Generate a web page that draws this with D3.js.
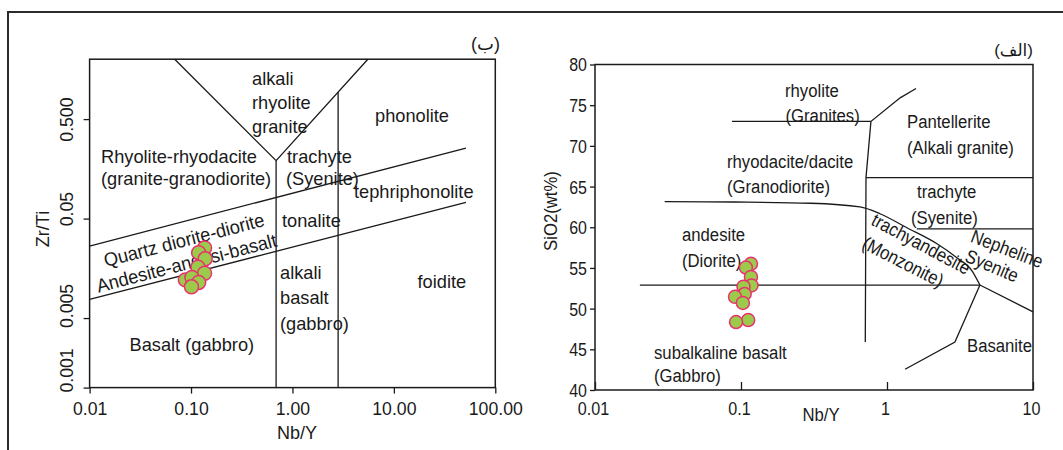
<!DOCTYPE html>
<html><head><meta charset="utf-8">
<script src="https://cdn.jsdelivr.net/npm/d3@7"></script>
<style>
body{margin:0;background:#fff;}
svg{display:block;font-family:"Liberation Sans",Arial,"DejaVu Sans",sans-serif;}
</style></head><body>
<svg id="c" width="1063" height="450"></svg>
<script>
// ---------------- DATA ----------------
// Left panel (ب): Zr/Ti vs Nb/Y (log-log)
const leftXTicks = [0.01, 0.1, 1, 10, 100];
const leftXTickLabels = ["0.01", "0.10", "1.00", "10.00", "100.00"];
const leftYTicks = [0.001, 0.005, 0.05, 0.5];
const leftYTickLabels = ["0.001", "0.005", "0.05", "0.500"];
const leftSampleNbY = [0.136, 0.119, 0.138, 0.117, 0.136, 0.088, 0.102, 0.119, 0.101];
const leftSampleZrTi = [0.0253, 0.0227, 0.0197, 0.0162, 0.0141, 0.0121, 0.0128, 0.0114, 0.0103];
const leftBoundaryV = [[0.069, 2], [0.69, 0.191], [5.54, 2]];
const leftBoundaryVert1 = [[0.69, 0.001], [0.69, 0.191]];
const leftBoundaryVert2 = [[2.82, 0.001], [2.82, 0.93]];
const leftBoundaryUpper = [[0.01, 0.0265], [51.4, 0.256]];
const leftBoundaryLower = [[0.01, 0.00769], [51.4, 0.0729]];

// Right panel (الف): SiO2 vs Nb/Y (log x)
const rightXTicks = [0.01, 0.1, 1, 10];
const rightXTickLabels = ["0.01", "0.1", "1", "10"];
const rightYTicks = [40, 45, 50, 55, 60, 65, 70, 75, 80];
const rightSampleNbY = [0.117, 0.108, 0.117, 0.118, 0.104, 0.106, 0.091, 0.103, 0.112, 0.0925];
const rightSampleSiO2 = [55.5, 55.05, 53.9, 52.85, 52.7, 51.8, 51.45, 50.7, 48.6, 48.35];
const rightBoundaryRhyolite = [[0.0867, 73.0], [0.776, 73.0], [1.23, 75.9], [1.58, 77.05]];
const rightBoundaryVertical = [[0.776, 73.0], [0.718, 66.1], [0.71, 45.9]];
const rightBoundaryPantellerite = [[0.718, 66.1], [10, 66.1]];
const rightBoundaryTrachyte = [[1.6, 59.8], [10, 59.8]];
const rightBoundaryCurve = [[0.030, 63.15], [0.09, 63.1], [0.30, 62.95], [0.653, 62.5], [0.895, 61.66],
  [1.37, 59.94], [2.20, 57.97], [3.01, 56.25], [3.82, 54.65], [4.33, 52.9]];
const rightBoundaryNepheline = [[4.33, 52.9], [10, 49.6]];
const rightBoundary53 = [[0.0203, 52.9], [4.33, 52.9]];
const rightBoundaryBasanite = [[4.33, 52.9], [2.92, 45.9], [1.33, 42.55]];

// ---------------- DRAW ----------------
const INK = "#1a1a1a";
const FILL = "#9ccb4c";
const EDGE = "#e8336f";
const svg = d3.select("#c");

svg.append("path").attr("d", "M8,450V12H1063").attr("fill", "none")
  .attr("stroke", "#2b2b2b").attr("stroke-width", 2);

function txt(g, s, x, y, o = {}) {
  const fs = o.fs || 19, sx = o.sx || 1, a = o.a || 0;
  return g.append("text")
    .attr("transform", `translate(${x},${y}) rotate(${a}) scale(${sx},1)`)
    .attr("text-anchor", o.anchor || "start")
    .attr("dominant-baseline", "central")
    .attr("fill", INK)
    .style("font-size", fs + "px")
    .text(s);
}

function styleAxis(g) {
  g.attr("font-family", null).attr("font-size", null);
  g.select(".domain").remove();
  g.selectAll(".tick line").attr("stroke", INK).attr("stroke-width", 1.3);
  g.selectAll(".tick text").attr("x", null).attr("y", null).attr("dy", null)
    .attr("fill", INK).attr("dominant-baseline", "central").style("font-size", "19px");
}

// ===== Left panel =====
const xL = d3.scaleLog().domain([0.01, 100]).range([89.6, 495.3]);
const yL = d3.scaleLog().domain([0.001, 2]).range([387.6, 59.2]);
const gL = svg.append("g");
const lineL = d3.line().x(d => xL(d[0])).y(d => yL(d[1]));
[leftBoundaryV, leftBoundaryVert1, leftBoundaryVert2, leftBoundaryUpper, leftBoundaryLower].forEach(b =>
  gL.append("path").attr("d", lineL(b)).attr("fill", "none").attr("stroke", INK).attr("stroke-width", 1.3));

gL.append("rect").attr("x", xL(0.01)).attr("y", yL(2))
  .attr("width", xL(100) - xL(0.01)).attr("height", yL(0.001) - yL(2))
  .attr("fill", "none").attr("stroke", INK).attr("stroke-width", 1.5);

const axLB = gL.append("g").attr("transform", `translate(0,${yL(0.001)})`)
  .call(d3.axisBottom(xL).tickValues(leftXTicks).tickFormat((d, i) => leftXTickLabels[i]).tickSize(6).tickSizeOuter(0));
styleAxis(axLB);
axLB.selectAll(".tick text").attr("text-anchor", "middle").attr("transform", "translate(0,20.5) scale(0.93,1)");

const leftYLabelShift = [-17.6, -12.6, -10, 0];
const axLL = gL.append("g").attr("transform", `translate(${xL(0.01)},0)`)
  .call(d3.axisLeft(yL).tickValues(leftYTicks).tickFormat((d, i) => leftYTickLabels[i]).tickSize(6).tickSizeOuter(0));
styleAxis(axLL);
axLL.selectAll(".tick text").attr("text-anchor", "middle")
  .attr("transform", (d, i) => `translate(-23.6,${leftYLabelShift[i]}) rotate(-90) scale(0.93,1)`);

txt(gL, "Nb/Y", 297, 432, {anchor: "middle", sx: 0.95});
txt(gL, "Zr/Ti", 42, 229, {anchor: "middle", a: -90, sx: 0.95});
txt(gL, "(ب)", 500, 44, {anchor: "end", fs: 18});

const SL = 0.96;
txt(gL, "alkali", 252, 78, {sx: SL});
txt(gL, "rhyolite", 252, 102, {sx: SL});
txt(gL, "granite", 252, 126, {sx: SL});
txt(gL, "phonolite", 375, 115, {sx: SL});
txt(gL, "Rhyolite-rhyodacite", 101, 156, {sx: SL});
txt(gL, "(granite-granodiorite)", 101, 178, {sx: SL});
txt(gL, "trachyte", 287, 156, {sx: SL});
txt(gL, "(Syenite)", 286, 178, {sx: SL});
txt(gL, "tephriphonolite", 354, 191, {sx: SL});
txt(gL, "tonalite", 282, 220, {sx: SL});
txt(gL, "Quartz diorite-diorite", 184, 240, {anchor: "middle", a: -14.5, sx: SL});
txt(gL, "Andesite-andesi-basalt", 186.5, 263, {anchor: "middle", a: -14.5, sx: SL});
txt(gL, "alkali", 280, 272, {sx: SL});
txt(gL, "basalt", 280, 297, {sx: SL});
txt(gL, "(gabbro)", 280, 323, {sx: SL});
txt(gL, "foidite", 417.5, 281, {sx: SL});
txt(gL, "Basalt (gabbro)", 129.5, 344, {sx: SL});

gL.selectAll("circle.s").data(leftSampleNbY).join("circle").attr("class", "s")
  .attr("cx", d => xL(d)).attr("cy", (d, i) => yL(leftSampleZrTi[i])).attr("r", 7)
  .attr("fill", FILL).attr("stroke", EDGE).attr("stroke-width", 1.5);

// ===== Right panel =====
const xR = d3.scaleLog().domain([0.01, 10]).range([595, 1033]);
const yR = d3.scaleLinear().domain([40, 80]).range([390, 64.5]);
const gR = svg.append("g");
const lineR = d3.line().x(d => xR(d[0])).y(d => yR(d[1]));
[rightBoundaryRhyolite, rightBoundaryVertical, rightBoundaryPantellerite, rightBoundaryTrachyte,
 rightBoundaryNepheline, rightBoundary53, rightBoundaryBasanite].forEach(b =>
  gR.append("path").attr("d", lineR(b)).attr("fill", "none").attr("stroke", INK).attr("stroke-width", 1.3));
gR.append("path").attr("d", lineR.curve(d3.curveMonotoneX)(rightBoundaryCurve))
  .attr("fill", "none").attr("stroke", INK).attr("stroke-width", 1.3);

gR.append("rect").attr("x", xR(0.01)).attr("y", yR(80))
  .attr("width", xR(10) - xR(0.01)).attr("height", yR(40) - yR(80))
  .attr("fill", "none").attr("stroke", INK).attr("stroke-width", 1.5);

const axRB = gR.append("g").attr("transform", `translate(0,${yR(40)})`)
  .call(d3.axisBottom(xR).tickValues(rightXTicks).tickFormat((d, i) => rightXTickLabels[i]).tickSize(-8).tickSizeOuter(0));
styleAxis(axRB);
axRB.selectAll(".tick text").attr("text-anchor", "middle").attr("transform", "translate(-2,18.5) scale(0.85,1)");

const axRL = gR.append("g").attr("transform", `translate(${xR(0.01)},0)`)
  .call(d3.axisLeft(yR).tickValues(rightYTicks).tickFormat(d3.format("d")).tickSize(5).tickSizeOuter(0));
styleAxis(axRL);
axRL.selectAll(".tick text").attr("text-anchor", "end").attr("transform", "translate(-8,0) scale(0.84,1)");

txt(gR, "Nb/Y", 821, 415, {anchor: "middle", sx: 0.88});
txt(gR, "SiO2(wt%)", 551, 211, {anchor: "middle", a: -90, sx: 0.88});
txt(gR, "(الف)", 1033, 50, {anchor: "end", fs: 17});

const SR = 0.88;
txt(gR, "rhyolite", 785, 91, {sx: SR});
txt(gR, "(Granites)", 785.5, 115.5, {sx: SR});
txt(gR, "Pantellerite", 907, 122, {sx: SR});
txt(gR, "(Alkali granite)", 907, 148, {sx: SR});
txt(gR, "rhyodacite/dacite", 727, 161.5, {sx: SR});
txt(gR, "(Granodiorite)", 727, 187, {sx: SR});
txt(gR, "trachyte", 917, 192, {sx: SR});
txt(gR, "(Syenite)", 911, 217.5, {sx: SR});
txt(gR, "andesite", 682, 235, {sx: SR});
txt(gR, "(Diorite)", 682, 261, {sx: SR});
txt(gR, "subalkaline basalt", 654, 352.5, {sx: SR});
txt(gR, "(Gabbro)", 654, 376, {sx: SR});
txt(gR, "Basanite", 967, 346, {sx: SR});
txt(gR, "trachyandesite", 921, 244, {anchor: "middle", a: 28, sx: SR});
txt(gR, "(Monzonite)", 903, 262, {anchor: "middle", a: 27, sx: SR});
txt(gR, "Nepheline", 1007, 249, {anchor: "middle", a: 21, sx: SR});
txt(gR, "Syenite", 992, 266, {anchor: "middle", a: 23, sx: SR});

gR.selectAll("circle.s").data(rightSampleNbY).join("circle").attr("class", "s")
  .attr("cx", d => xR(d)).attr("cy", (d, i) => yR(rightSampleSiO2[i])).attr("r", 6.5)
  .attr("fill", FILL).attr("stroke", EDGE).attr("stroke-width", 1.5);
</script>
</body></html>
